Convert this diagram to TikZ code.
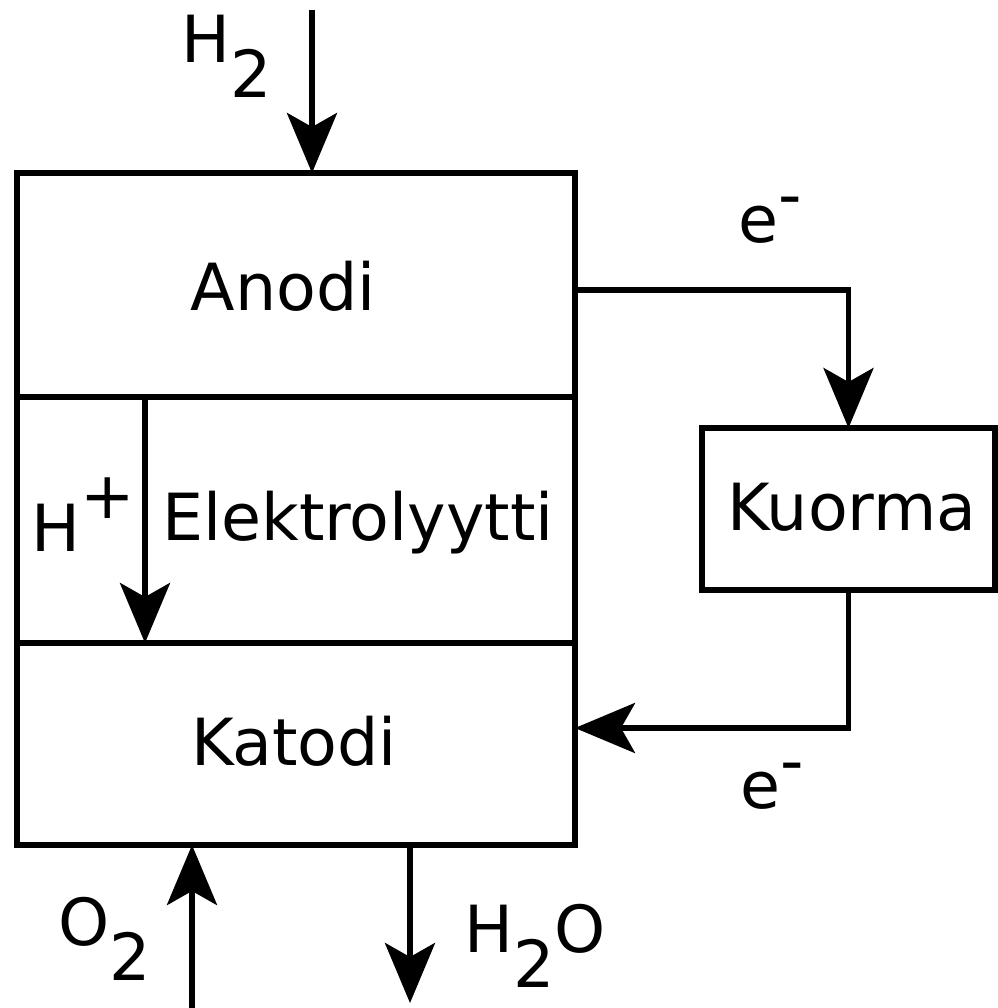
\documentclass[tikz,border=0pt]{standalone}
\usepackage{fontspec}
\setmainfont{DejaVu Sans}
\usetikzlibrary{arrows.meta, positioning}

\newcommand{\lowtxt}[1]{\raisebox{-35pt}{#1}}
\newcommand{\hightxt}[1]{\raisebox{33pt}{#1}}
\newcommand{\minustxt}{\raisebox{25pt}{-}}

\begin{document}
\begin{tikzpicture}[
      x=1pt, y=-1pt,
      font=\fontsize{65}{78}\selectfont,
      part/.style={rectangle, draw, line width=5.5pt, minimum width=558pt, inner sep=0pt, outer sep=0pt},
      loadbox/.style={rectangle, draw, line width=5.5pt, minimum width=293pt, minimum height=162pt, inner sep=0pt, outer sep=0pt},
      lbl/.style={anchor=base, inner sep=0pt},
      chem/.style={anchor=base west, inner sep=0pt},
      flow/.style={line width=5.5pt, -{Stealth[length=60pt, width=50pt, inset=14pt]}}
  ]
  \useasboundingbox (0,0) rectangle (997,1008);

  % fuel cell
  \node[part, minimum height=224pt] (anode) at (296,285) {};
  \node[part, minimum height=246pt] (electro) [below=0pt of anode] {};
  \node[part, minimum height=202pt] (cathode) [below=0pt of electro] {};
  \node[loadbox] (load) at (848.5,509) {};

  \node[lbl] (anodetxt) at (283,310) {Anodi};
  \node[lbl] (electrotxt) at (358,540) {Elektrolyytti};
  \node[lbl] (cathodetxt) at (294,765) {Katodi};
  \node[lbl] (loadtxt) at (852,530) {Kuorma};

  % gases, ions and electrons
  \node[chem] (htwo) at (181,63) {H\lowtxt{2}};
  \node[chem] (hplus) at (31,551) {H\hightxt{+}};
  \node[chem] (eout) at (738.5,243) {e\minustxt};
  \node[chem] (ein) at (740,808) {e\minustxt};
  \node[chem] (otwo) at (58.5,945) {O\lowtxt{2}};
  \node[chem] (water) at (464,952) {H\lowtxt{2}O};

  \coordinate (htwoin) at (312,10);
  \coordinate (ionx) at (145,0);
  \coordinate (otwoin) at (192,1008);
  \coordinate (waterout) at (410,1003);

  \draw[flow] (htwoin) -- (htwoin |- anode.north);
  \draw[flow] (ionx |- anode.south) -- (ionx |- cathode.north);
  \draw[flow] ([yshift=-5pt]anode.east) -| (load.north);
  \draw[flow] (load.south) |- ([yshift=16pt]cathode.east);
  \draw[flow] (otwoin) -- (otwoin |- cathode.south);
  \draw[flow] (waterout |- cathode.south) -- (waterout);

\end{tikzpicture}
\end{document}
